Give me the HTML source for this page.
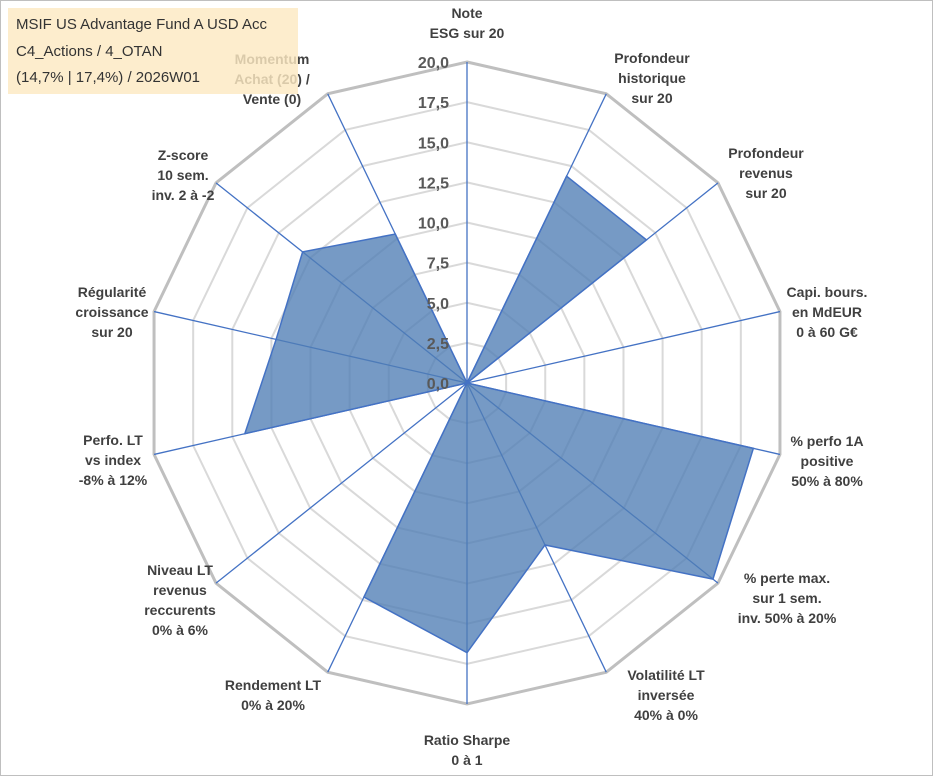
<!DOCTYPE html>
<html><head><meta charset="utf-8"><style>
html,body{margin:0;padding:0;background:#fff;}
svg{display:block;font-family:"Liberation Sans",sans-serif;}
</style></head><body>
<svg id="chart" width="933" height="776" viewBox="0 0 933 776">
<rect x="0.5" y="0.5" width="932" height="775" fill="#fff" stroke="#bfbfbf"/>
<g id="grid"></g><g id="axes"></g><g id="series"></g><g id="ticks"></g><g id="labels"></g>
<g>
<rect x="8" y="8" width="290" height="86" fill="#fde9c2" fill-opacity="0.82"/>
<text x="16" y="29" font-size="15" fill="#333">MSIF US Advantage Fund A USD Acc</text>
<text x="16" y="56" font-size="15" fill="#333">C4_Actions / 4_OTAN</text>
<text x="16" y="82" font-size="15" fill="#333">(14,7% | 17,4%) / 2026W01</text>
</g>
</svg>
<script>
const categories=[["Note","ESG sur 20"],["Profondeur","historique","sur 20"],["Profondeur","revenus","sur 20"],["Capi. bours.","en MdEUR","0 à 60 G€"],["% perfo 1A","positive","50% à 80%"],["% perte max.","sur 1 sem.","inv. 50% à 20%"],["Volatilité LT","inversée","40% à 0%"],["Ratio Sharpe","0 à 1"],["Rendement LT","0% à 20%"],["Niveau LT","revenus","reccurents","0% à 6%"],["Perfo. LT","vs index","-8% à 12%"],["Régularité","croissance","sur 20"],["Z-score","10 sem.","inv. 2 à -2"],["Momentum","Achat (20) /","Vente (0)"]];
const values=[0,14.3,14.3,0,18.3,19.6,11.2,16.8,14.8,0,14.2,12.2,13.1,10.3];
const tickLabels=["0,0","2,5","5,0","7,5","10,0","12,5","15,0","17,5","20,0"];
const labelPos=[[467,18],[652,63],[766,158],[827,297],[827,446],[787,583],[666,680],[467,745],[273,690],[180,575],[113,445],[112,297],[183,160],[272,64]];
const NS="http://www.w3.org/2000/svg",cx=467,cy=383,R=321,maxV=20,N=categories.length;
function pt(i,v){const a=i*2*Math.PI/N;const r=v/maxV*R;return [cx+r*Math.sin(a),cy-r*Math.cos(a)];}
function mk(t,attrs,parent){const e=document.createElementNS(NS,t);for(const k in attrs)e.setAttribute(k,attrs[k]);document.getElementById(parent).appendChild(e);return e;}
for(let k=1;k<tickLabels.length;k++){const v=k*2.5;const p=[];for(let i=0;i<N;i++)p.push(pt(i,v).join(","));
const g=mk("polygon",{points:p.join(" "),fill:"none",stroke:k==tickLabels.length-1?"#bfbfbf":"#d9d9d9","stroke-width":k==tickLabels.length-1?3:2},"grid");

}
for(let i=0;i<N;i++){const e=pt(i,maxV);const l=mk("line",{x1:cx,y1:cy,x2:e[0],y2:e[1],stroke:"#4472c4","stroke-width":1.3},"axes");

}
const sp=values.map((v,i)=>pt(i,v).join(",")).join(" ");
const poly=mk("polygon",{points:sp,fill:"#4f7db5","fill-opacity":0.78,stroke:"#4472c4","stroke-width":1.5},"series");


tickLabels.forEach((t,k)=>{const y=cy-k*2.5/maxV*R;const e=mk("text",{x:cx-18,y:y+6,"text-anchor":"end","font-size":16,"font-weight":"bold",fill:"#595959"},"ticks");e.textContent=t;

});
categories.forEach((lines,i)=>{const [x,y]=labelPos[i];const t=mk("text",{x:x,y:y,"text-anchor":"middle","font-size":14,"font-weight":"bold",fill:"#404040"},"labels");


lines.forEach((s,j)=>{const ts=document.createElementNS(NS,"tspan");ts.setAttribute("x",x);ts.setAttribute("y",y+j*20);ts.textContent=s;t.appendChild(ts);});});
</script>
</body></html>
